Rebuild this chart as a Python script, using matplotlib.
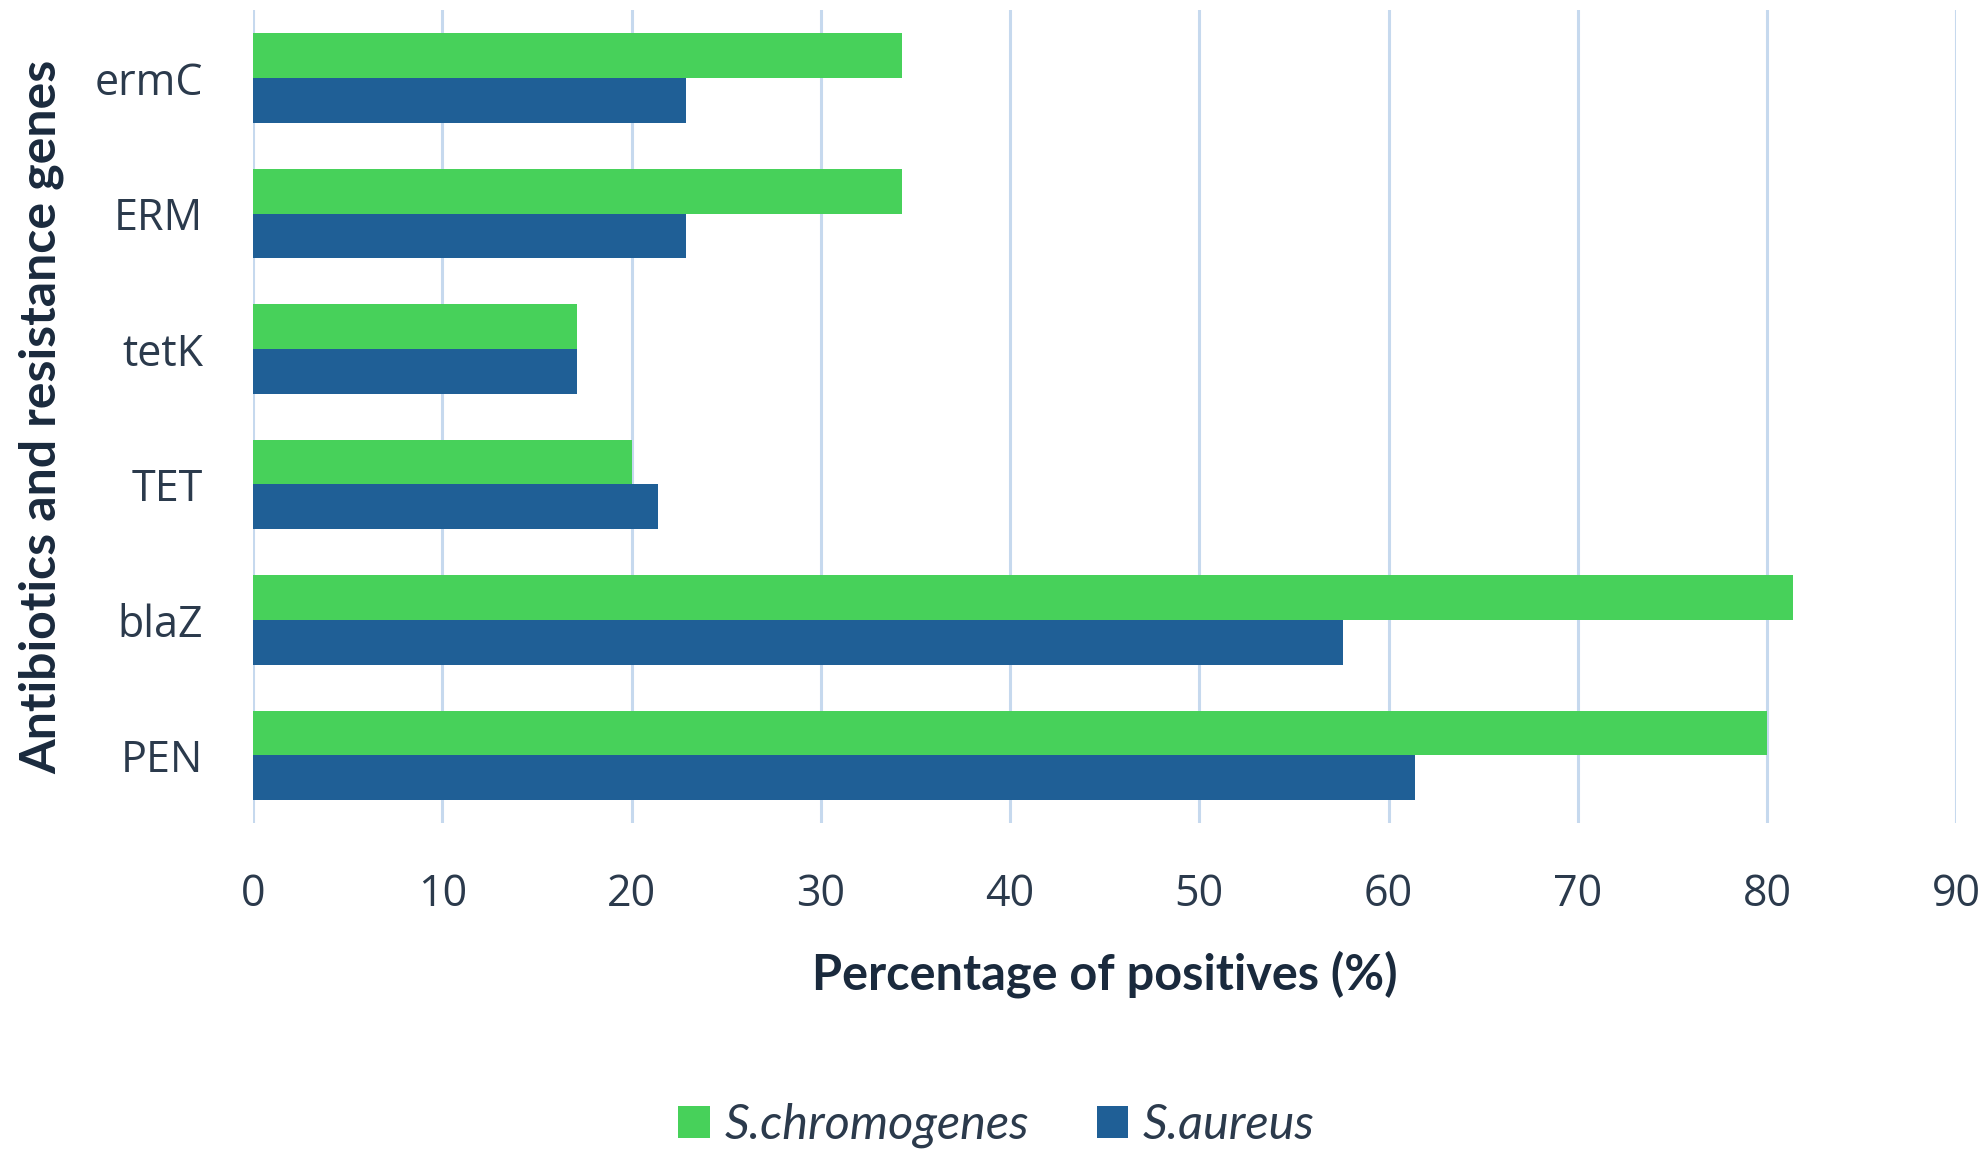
import numpy as np
import matplotlib.pyplot as plt

# categories, top to bottom as shown
genes = ['ermC', 'ERM', 'tetK', 'TET', 'blaZ', 'PEN']
chromogenes = [34.3, 34.3, 17.1, 20.0, 81.4, 80.0]
aureus = [22.9, 22.9, 17.1, 21.4, 57.6, 61.4]
series_names = ['S.chromogenes', 'S.aureus']

green = '#47d15a'
blue = '#1f5f96'
text_col = '#2b3a4c'
label_col = '#1a2a3d'
grid_col = '#c6d9ee'

plt.rcParams['font.family'] = ['Open Sans', 'DejaVu Sans']

fig = plt.figure(figsize=(19.85, 11.51), dpi=100)
ax = fig.add_axes([0.1275, 0.285, 0.858, 0.706])

y = np.arange(len(genes))
h = 0.33
ax.barh(y - h / 2, chromogenes, height=h, color=green, label=series_names[0], zorder=3)
ax.barh(y + h / 2, aureus, height=h, color=blue, label=series_names[1], zorder=3)

ax.set_xlim(0, 90)
ax.set_ylim(len(genes) - 0.5, -0.5)
ax.set_xticks(np.arange(0, 91, 10))
ax.set_yticks(y)
ax.set_yticklabels(genes)

for s in ax.spines.values():
    s.set_visible(False)
ax.xaxis.grid(True, color=grid_col, linewidth=2.2, zorder=0)
ax.yaxis.grid(False)
ax.tick_params(axis='both', length=0, labelsize=31, colors=text_col)
ax.tick_params(axis='x', pad=36)
ax.tick_params(axis='y', pad=36)

ax.set_xlabel('Percentage of positives (%)', fontsize=35, fontweight='bold',
              color=label_col, family=['Lato', 'DejaVu Sans'], labelpad=24)
ax.set_ylabel('Antibiotics and resistance genes', fontsize=36, fontweight='bold',
              color=label_col, family=['Lato', 'DejaVu Sans'], labelpad=22)

leg = fig.legend(loc='center', bbox_to_anchor=(0.502, 0.022), ncol=2, frameon=False,
                 prop={'size': 35, 'style': 'italic', 'family': ['Lato', 'DejaVu Sans']},
                 handlelength=0.65, handleheight=0.65, handletextpad=0.3, columnspacing=1.4)
for t in leg.get_texts():
    t.set_color(text_col)

fig.savefig('out.png', dpi=100)
